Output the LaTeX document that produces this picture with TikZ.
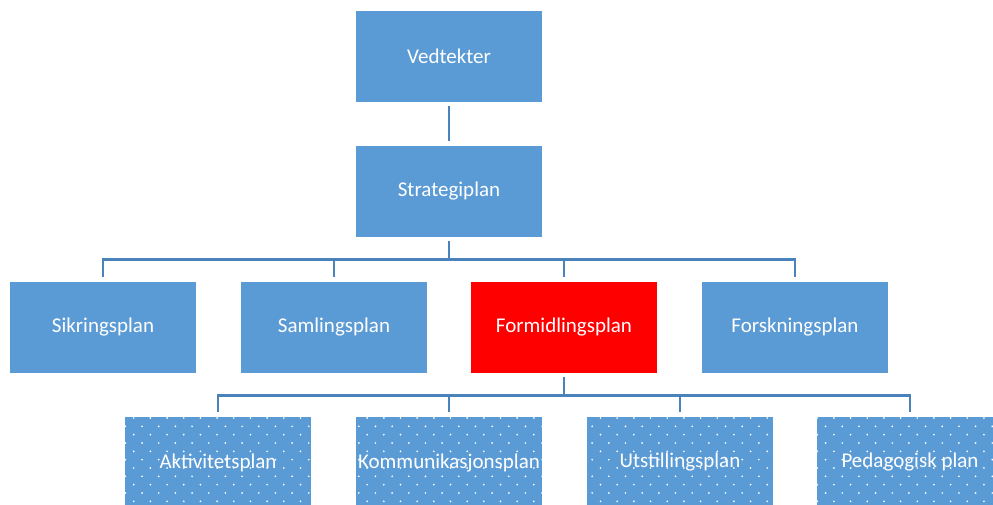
\documentclass[tikz,border=0pt]{standalone}
\usepackage{fontspec}
\setmainfont{Carlito}
\definecolor{boxblue}{HTML}{5B9BD5}
\definecolor{linkblue}{HTML}{4A83BC}
\definecolor{boxred}{HTML}{FF0000}
\begin{document}
\begin{tikzpicture}[x=1pt,y=-1pt,
  box/.style={fill=boxblue,minimum width=186pt,minimum height=91pt,inner sep=0pt,
    text=white,font=\fontsize{21}{24}\selectfont},
  link/.style={draw=linkblue,line width=2.8pt}]
\useasboundingbox (0,0) rectangle (993,504);
\node[box] (ved) at (449,56) {};
\node[box] (str) at (449,191.5) {};
\node[box] (sik) at (103,327.5) {};
\node[box] (sam) at (334,327.5) {};
\node[box,fill=boxred] (for) at (564,327.5) {};
\node[box] (fsk) at (795,327.5) {};
\node[box] (akt) at (218,462.5) {};
\node[box] (kom) at (449,462.5) {};
\node[box] (uts) at (680,462.5) {};
\node[box] (ped) at (910,462.5) {};
% dot pattern
\foreach \n in {akt,kom,uts,ped}{
  \begin{scope}
    \clip (\n.north west) rectangle (\n.south east);
    \foreach \r in {0,...,11}{
      \pgfmathsetmacro{\yy}{418+\r*8.33}
      \pgfmathsetmacro{\off}{0.4+mod(\r,2)*8.33}
      \foreach \c in {0,...,60}{
        \pgfmathsetmacro{\xx}{\off+\c*16.67}
        \fill[white] (\xx,\yy) circle (0.95pt);
      }
    }
  \end{scope}
}
\node[box,fill=none] at (ved) {Vedtekter};
\node[box,fill=none] at (str) {Strategiplan};
\node[box,fill=none] at (sik) {Sikringsplan};
\node[box,fill=none] at (sam) {Samlingsplan};
\node[box,fill=none] at (for) {Formidlingsplan};
\node[box,fill=none] at (fsk) {Forskningsplan};
\node[box,fill=none] at (akt) {Aktivitetsplan};
\node[box,fill=none] at (kom) {Kommunikasjonsplan};
\node[box,fill=none] at (uts) {Utstillingsplan};
\node[box,fill=none] at (ped) {Pedagogisk plan};
% connectors
\draw[link] ([yshift=-4pt]ved.south) -- ([yshift=5pt]str.north);
\coordinate (b1) at (449,259.5);
\coordinate (b2) at (564,395.5);
\draw[link] ([yshift=-4pt]str.south) -- (b1);
\foreach \n in {sik,sam,for,fsk}{
  \draw[link] ([yshift=5pt]\n.north) |- (b1);
}
\draw[link] ([yshift=-4pt]for.south) -- (b2);
\foreach \n in {akt,kom,uts,ped}{
  \draw[link] ([yshift=5pt]\n.north) |- (b2);
}
\end{tikzpicture}
\end{document}
